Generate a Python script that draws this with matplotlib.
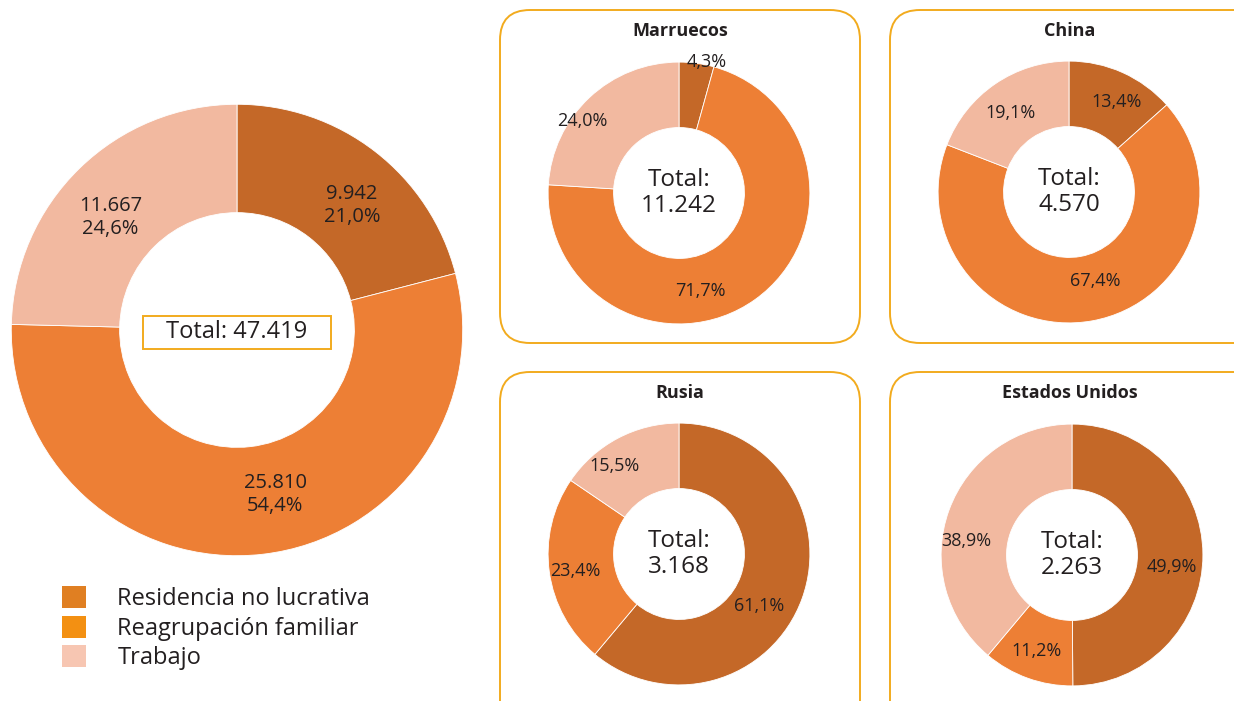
import matplotlib.pyplot as plt
from matplotlib.patches import FancyBboxPatch, Patch, Rectangle

plt.rcParams["font.family"] = ["Open Sans", "DejaVu Sans"]

# data
categories = ["Residencia no lucrativa", "Reagrupación familiar", "Trabajo"]
total_values = [9942, 25810, 11667]
total_pcts = ["21,0%", "54,4%", "24,6%"]
total_label = "47.419"

countries = ["Marruecos", "China", "Rusia", "Estados Unidos"]
country_totals = ["11.242", "4.570", "3.168", "2.263"]
country_pcts = [
    [4.3, 71.7, 24.0],
    [13.4, 67.4, 19.1],
    [61.1, 23.4, 15.5],
    [49.9, 11.2, 38.9],
]

# styles
slice_colors = ["#C46828", "#ED7F35", "#F2B9A0"]
legend_colors = ["#E07F22", "#F39012", "#F7C6B2"]
gold = "#F2AB1E"
txt = "#231F20"

W, H = 1234, 701
fig = plt.figure(figsize=(W / 100, H / 100), dpi=100)


def px_axes(cx, cy, half):
    # cx, cy in image pixels (top origin)
    return fig.add_axes([(cx - half) / W, (H - cy - half) / H, 2 * half / W, 2 * half / H])


def fmt_int(v):
    return f"{v:,}".replace(",", ".")


# main donut
ax = px_axes(237, 330, 237)
ax.pie(total_values, colors=slice_colors, startangle=90, counterclock=False,
       radius=1, wedgeprops=dict(width=0.48, edgecolor="white", linewidth=0.6))
ax.set_xlim(-1.05, 1.05)
ax.set_ylim(-1.05, 1.05)
ax.set_aspect("equal")
ax.axis("off")
main_pos = [(0.51, 0.55), (0.17, -0.73), (-0.56, 0.50)]
for v, p, (x, y) in zip(total_values, total_pcts, main_pos):
    ax.text(x, y, f"{fmt_int(v)}\n{p}", ha="center", va="center", fontsize=14.5,
            color=txt, linespacing=1.2)
ax.add_patch(Rectangle((-0.415, -0.083), 0.83, 0.146, fc="white", ec=gold, lw=1.4))
ax.text(0.0, -0.01, f"Total: {total_label}", ha="center", va="center", fontsize=17,
        color=txt)

# legend
handles = [Patch(facecolor=c, edgecolor="none") for c in legend_colors]
fig.legend(handles, categories, loc="upper left", bbox_to_anchor=(62 / W, 1 - 586 / H),
           frameon=False, fontsize=17, handlelength=1.0, handleheight=1.05,
           handletextpad=1.35, labelspacing=0.2, labelcolor=txt,
           borderaxespad=0, borderpad=0)

# country panels
centers = [(679, 193), (1069, 192), (679, 554), (1072, 555)]
boxes = [(500, 10, 860, 343), (890, 10, 1270, 343), (500, 372, 860, 740), (890, 372, 1270, 740)]
label_pos = [
    [(0.21, 1.0), (0.16, -0.75), (-0.74, 0.55)],
    [(0.36, 0.69), (0.20, -0.68), (-0.45, 0.60)],
    [(0.61, -0.40), (-0.79, -0.13), (-0.49, 0.67)],
    [(0.76, -0.09), (-0.27, -0.73), (-0.81, 0.11)],
]

for name, tot, pcts, (cx, cy), (x0, y0, x1, y1), lpos in zip(
        countries, country_totals, country_pcts, centers, boxes, label_pos):
    fig.patches.append(FancyBboxPatch(
        (x0 / 100, (H - y1) / 100), (x1 - x0) / 100, (y1 - y0) / 100,
        boxstyle="round,pad=0,rounding_size=0.3", transform=fig.dpi_scale_trans,
        fc="none", ec=gold, lw=1.4, figure=fig))
    fig.text((x0 + 180) / W, 1 - (y0 + 21) / H, name,
             ha="center", va="center", fontsize=13, fontweight="bold", color=txt)
    a = px_axes(cx, cy, 144)
    a.pie(pcts, colors=slice_colors, startangle=90, counterclock=False, radius=1,
          wedgeprops=dict(width=0.5, edgecolor="white", linewidth=0.6))
    a.set_xlim(-1.1, 1.1)
    a.set_ylim(-1.1, 1.1)
    a.set_aspect("equal")
    a.axis("off")
    for p, (x, y) in zip(pcts, lpos):
        a.text(x, y, f"{p:.1f}%".replace(".", ","), ha="center", va="center",
               fontsize=13, color=txt)
    a.text(0, 0, f"Total:\n{tot}", ha="center", va="center", fontsize=17.5,
           color=txt, linespacing=1.15)

fig.savefig("out.png", dpi=100)
